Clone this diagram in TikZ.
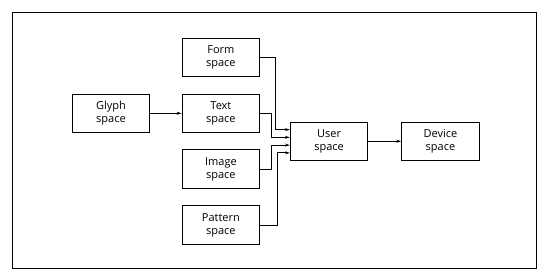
\documentclass[tikz,border=0pt]{standalone}
\usepackage{fontspec}
\setmainfont{Open Sans}
\usetikzlibrary{positioning,calc,arrows.meta}

\begin{document}
\begin{tikzpicture}[
    x=1pt, y=1pt,
    node distance=16.5pt and 31.5pt,
    >={Stealth[length=5pt,width=3pt]},
    % coordinate space boxes
    space/.style={rectangle, draw, line width=0.9pt, minimum width=77.5pt, minimum height=38.5pt, align=center, inner sep=0pt, font=\fontsize{11}{13}\selectfont},
    flow/.style={->, draw, line width=0.9pt}
  ]

  % Frame
  \useasboundingbox (0,0) rectangle (542,-280);
  \draw[line width=0.9pt] (12.6,-12.3) rectangle (536.4,-268.7);

  % Spaces
  \node[space] (glyph) at (111,-113.3) {Glyph\\space};
  \node[space, right=of glyph] (text) {Text\\space};
  \node[space, above=of text] (form) {Form\\space};
  \node[space, below=of text] (image) {Image\\space};
  \node[space, below=of image] (pattern) {Pattern\\space};
  \coordinate (mid) at ($(text.east)!0.5!(image.east)$);
  \node[space, right=29.8pt of mid] (user) {User\\space};
  \node[space, right=33pt of user] (device) {Device\\space};

  % Transformations
  \draw[flow] (glyph) -- (text);
  \draw[flow] (form.east) -| ([shift={(-14pt,11.6pt)}]user.west) -- ([yshift=11.6pt]user.west);
  \draw[flow] (text.east) -| ([shift={(-18pt,3.9pt)}]user.west) -- ([yshift=3.9pt]user.west);
  \draw[flow] (image.east) -| ([shift={(-18pt,-3.9pt)}]user.west) -- ([yshift=-3.9pt]user.west);
  \draw[flow] (pattern.east) -| ([shift={(-12pt,-11.6pt)}]user.west) -- ([yshift=-11.6pt]user.west);
  \draw[flow] (user) -- (device);
\end{tikzpicture}
\end{document}
